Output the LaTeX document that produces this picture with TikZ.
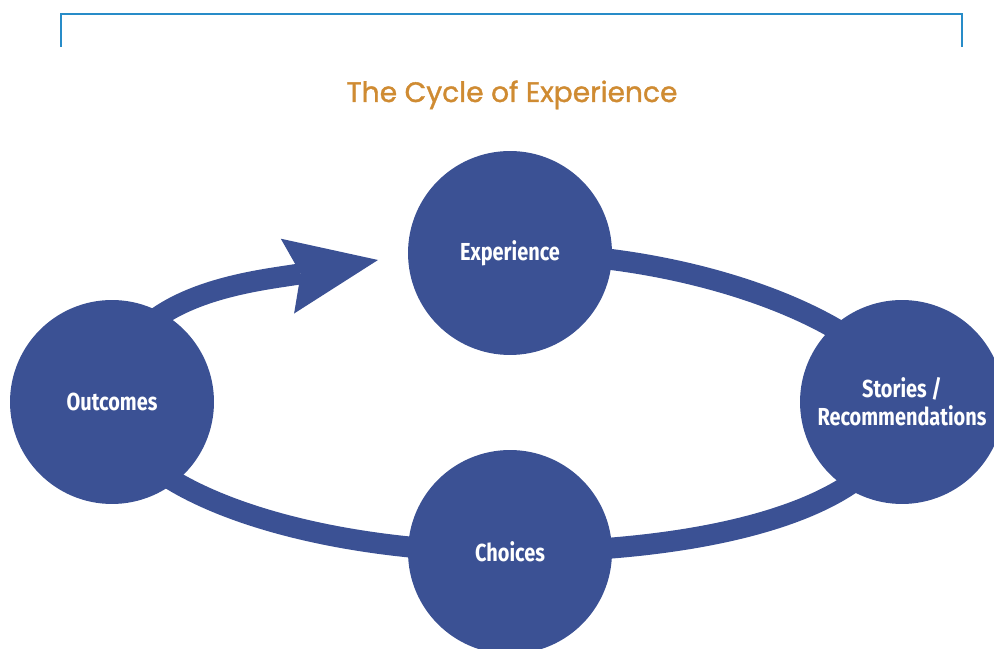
\documentclass[tikz,border=0pt]{standalone}
\usepackage{fontspec}
\usepackage{xcolor}
\usepackage{tikz}
\usetikzlibrary{arrows.meta,backgrounds}

\newfontfamily\titlefont[FakeBold=1.2]{Poppins}
\newfontfamily\stagefont[FakeStretch=0.81]{Fira Sans}
\definecolor{cycblue}{RGB}{59,81,148}
\definecolor{cycgold}{RGB}{207,139,50}
\definecolor{rulecol}{RGB}{40,140,200}

\begin{document}
\begin{tikzpicture}[x=0.02cm,y=0.02cm,
  stage/.style={circle,fill=cycblue,minimum size=4.08cm,inner sep=0pt,
    text=white,align=center,font=\stagefont\bfseries\fontsize{14}{16}\selectfont},
  ring/.style={draw=cycblue,line width=0.42cm}]
  \useasboundingbox (0,0) rectangle (994,649);
  \clip (0,0) rectangle (994,649);
  % frame and title
  \draw[rulecol,line width=1.2pt] (61,602) -- (61,635) -- (962,635) -- (962,602);
  \node[anchor=base,text=cycgold,font=\titlefont\fontsize{16}{19}\selectfont]
    (title) at (512,547) {The Cycle of Experience};
  % stages
  \node[stage] (exp) at (510,396) {Experience};
  \node[stage] (sto) at (902,247) {Stories /\\Recommendations};
  \node[stage] (cho) at (510,97) {Choices};
  \node[stage] (out) at (112,247) {Outcomes};
  \coordinate (tip) at (378,389);
  % the cycle
  \begin{scope}[on background layer]
    \draw[ring] (exp.center) .. controls +(216,0) and +(0,60) .. (sto.center)
      .. controls +(0,-100) and +(216,0) .. (cho.center)
      .. controls +(-220,0) and +(0,-80) .. (out.center);
    \draw[ring,-{Stealth[length=1.84cm,width=1.52cm,inset=0.27cm,line width=0pt]}]
      (out.center) .. controls +(0,110) and +(-118,-21) .. (tip);
  \end{scope}
\end{tikzpicture}
\end{document}
